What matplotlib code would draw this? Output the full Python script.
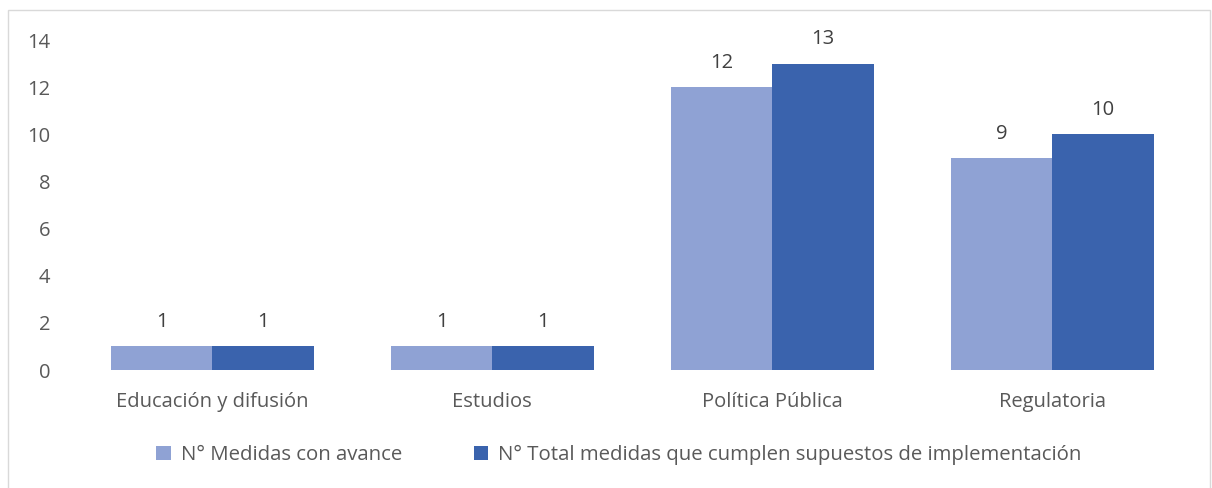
import matplotlib.pyplot as plt
import numpy as np
from matplotlib.patches import Rectangle

categories = ["Educación y difusión", "Estudios", "Política Pública", "Regulatoria"]
con_avance = [1, 1, 12, 9]
total_medidas = [1, 1, 13, 10]
series_names = ["N° Medidas con avance",
                "N° Total medidas que cumplen supuestos de implementación"]

plt.rcParams['font.family'] = ['Open Sans', 'DejaVu Sans']

fig = plt.figure(figsize=(12.12, 4.88), dpi=100)
fig.patches.append(Rectangle((8 / 1212, -0.01), 1202 / 1212, 1 - 10 / 488 + 0.01,
                             transform=fig.transFigure, fill=False,
                             edgecolor="#D9D9D9", linewidth=1))
ax = fig.add_axes([72.5 / 1212, 1 - 370 / 488, 1119.5 / 1212, 330 / 488])

x = np.arange(len(categories))
w = 0.3625
b1 = ax.bar(x - w / 2, con_avance, w, color="#8FA2D4", label=series_names[0])
b2 = ax.bar(x + w / 2, total_medidas, w, color="#3A63AD", label=series_names[1])

for bars in (b1, b2):
    for r in bars:
        ax.text(r.get_x() + r.get_width() / 2, r.get_height() + 0.6, f"{int(r.get_height())}",
                ha="center", va="bottom", fontsize=14.5, color="#404040")

ax.set_xlim(-0.5, len(categories) - 0.5)
ax.set_ylim(0, 14)
ax.set_yticks(range(0, 15, 2))
ax.set_xticks(x)
ax.set_xticklabels(categories)
ax.tick_params(axis="both", length=0, labelsize=14.5, labelcolor="#595959")
ax.tick_params(axis="x", pad=16)
ax.tick_params(axis="y", pad=16)
for s in ax.spines.values():
    s.set_visible(False)

fig.legend(loc="center", bbox_to_anchor=(619 / 1212, 1 - 455 / 488), ncol=2, frameon=False,
           fontsize=14.7, labelcolor="#595959", handlelength=0.7, handleheight=0.7,
           handletextpad=0.5, columnspacing=3.5)

fig.savefig("out.png", dpi=100)
